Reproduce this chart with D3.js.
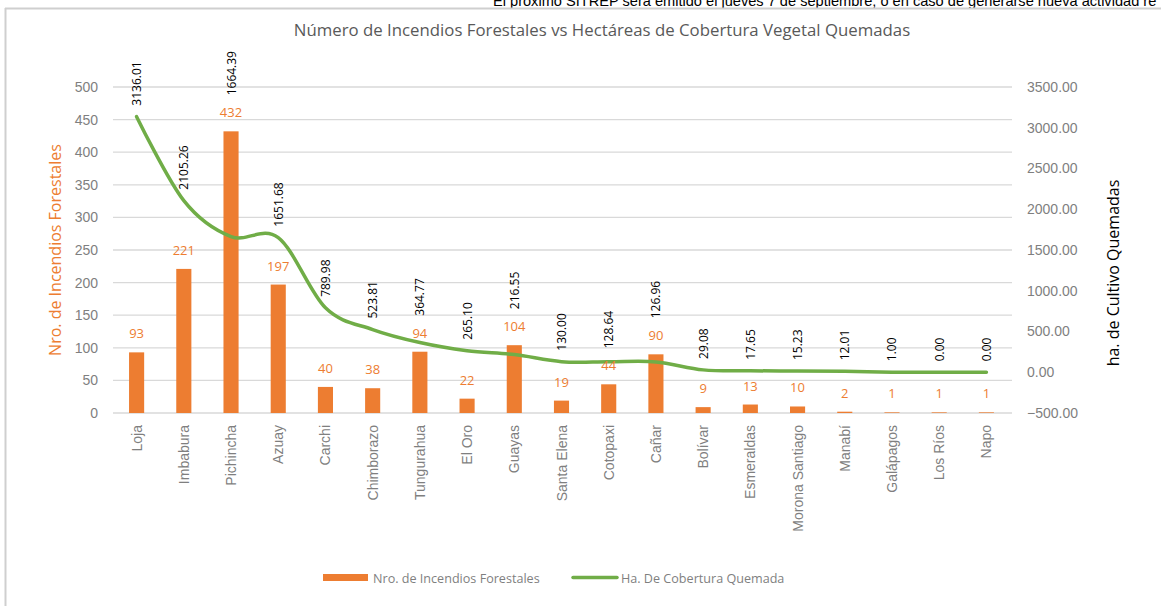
<!DOCTYPE html>
<html><head><meta charset="utf-8">
<script src="https://cdn.jsdelivr.net/npm/d3@7/dist/d3.min.js"></script>
<style>
body{margin:0;background:#fff;}
svg{display:block;font-family:"Open Sans","Noto Sans",sans-serif;}
</style></head>
<body>
<svg id="c" width="1161" height="606"></svg>
<script>
const categories = ["Loja","Imbabura","Pichincha","Azuay","Carchi","Chimborazo","Tungurahua","El Oro","Guayas","Santa Elena","Cotopaxi","Cañar","Bolívar","Esmeraldas","Morona Santiago","Manabí","Galápagos","Los Ríos","Napo"];
const incendios = [93,221,432,197,40,38,94,22,104,19,44,90,9,13,10,2,1,1,1];
const hectareas = [3136.01,2105.26,1664.39,1651.68,789.98,523.81,364.77,265.10,216.55,130.00,128.64,126.96,29.08,17.65,15.23,12.01,1.00,0.00,0.00];
const leftTicks = [0,50,100,150,200,250,300,350,400,450,500];
const rightTicks = [-500,0,500,1000,1500,2000,2500,3000,3500];
const title = "Número de Incendios Forestales vs Hectáreas de Cobertura Vegetal Quemadas";
const headerText = "El próximo SITREP será emitido el jueves 7 de septiembre, o en caso de generarse nueva actividad re";
const leftTitle = "Nro. de Incendios Forestales";
const rightTitle = "ha. de Cultivo Quemadas";
const legendBar = "Nro. de Incendios Forestales";
const legendLine = "Ha. De Cobertura Quemada";

const ORANGE = "#ED7D31", GREEN = "#70AD47";
const svg = d3.select("#c");

// header & frame
svg.append("text").attr("x",493).attr("y",6).attr("font-family","Liberation Sans, Arial, sans-serif")
  .attr("font-size",14.6).attr("fill","#000").text(headerText);
svg.append("line").attr("x1",5).attr("x2",1161).attr("y1",8.5).attr("y2",8.5).attr("stroke","#cfcfcf").attr("stroke-width",2);
svg.append("line").attr("x1",5.5).attr("x2",5.5).attr("y1",8).attr("y2",606).attr("stroke","#cfcfcf").attr("stroke-width",2);

const x = d3.scaleBand().domain(categories).range([113,1010]).paddingInner(0.68).paddingOuter(0.34);
const yL = d3.scaleLinear().domain([0,500]).range([413,87]);
const yR = d3.scaleLinear().domain([-500,3500]).range([413,87]);

// title
svg.append("text").attr("x",602).attr("y",36).attr("text-anchor","middle").attr("font-size",16.8)
  .attr("fill","#595959").text(title);

// gridlines
svg.append("g").selectAll("line").data(leftTicks).join("line")
  .attr("x1",113).attr("x2",1012).attr("y1",d=>yL(d)).attr("y2",d=>yL(d))
  .attr("stroke","#d9d9d9").attr("stroke-width",1.3);

// left axis
const gL = svg.append("g").attr("transform","translate(98,0)")
  .call(d3.axisLeft(yL).tickValues(leftTicks).tickSize(0).tickPadding(0));
gL.select(".domain").remove();
gL.selectAll("text").attr("font-size",14).attr("fill","#7f7f7f").attr("font-family",null);

// right axis
const gR = svg.append("g").attr("transform","translate(1027,0)")
  .call(d3.axisRight(yR).tickValues(rightTicks).tickSize(0).tickPadding(0).tickFormat(d3.format(".2f")));
gR.select(".domain").remove();
gR.selectAll("text").attr("font-size",14).attr("fill","#7f7f7f").attr("font-family",null);

// x axis labels
const gX = svg.append("g").attr("transform","translate(0,413)")
  .call(d3.axisBottom(x).tickSize(0).tickPadding(0));
gX.select(".domain").remove();
gX.selectAll("text").attr("font-size",14).attr("fill","#7f7f7f").attr("font-family",null)
  .attr("text-anchor","end").attr("dy",null).attr("y",0)
  .attr("transform","translate(5,12) rotate(-90)");

// bars
svg.append("g").selectAll("rect").data(incendios).join("rect")
  .attr("x",(d,i)=>x(categories[i])).attr("width",x.bandwidth())
  .attr("y",d=>yL(d)).attr("height",d=>yL(0)-yL(d)).attr("fill",ORANGE);

// line
const line = d3.line().x((d,i)=>x(categories[i])+x.bandwidth()/2).y(d=>yR(d)).curve(d3.curveCardinal.tension(0));
svg.append("path").datum(hectareas).attr("d",line).attr("fill","none").attr("stroke",GREEN)
  .attr("stroke-width",3.5).attr("stroke-linecap","round");

// bar labels
svg.append("g").selectAll("text").data(incendios).join("text")
  .attr("x",(d,i)=>x(categories[i])+x.bandwidth()/2).attr("y",d=>yL(d)-14)
  .attr("text-anchor","middle").attr("font-size",13).attr("fill",ORANGE).text(d=>d);

// line labels
svg.append("g").selectAll("text").data(hectareas).join("text")
  .attr("transform",(d,i)=>{
    const cx = x(categories[i])+x.bandwidth()/2;
    const top = Math.min(yR(d), yL(incendios[i])-25) - 11;
    return `translate(${cx+4.5},${top}) rotate(-90)`;
  })
  .attr("text-anchor","start").attr("font-size",12).attr("fill","#000").text(d=>d3.format(".2f")(d));

// axis titles
svg.append("text").attr("transform","translate(61,250) rotate(-90)").attr("text-anchor","middle")
  .attr("font-size",16).attr("fill",ORANGE).text(leftTitle);
svg.append("text").attr("transform","translate(1119,273) rotate(-90)").attr("text-anchor","middle")
  .attr("font-size",16).attr("fill","#000").text(rightTitle);

// legend
svg.append("rect").attr("x",323).attr("y",574).attr("width",45).attr("height",7).attr("fill",ORANGE);
svg.append("text").attr("x",373).attr("y",582.5).attr("font-size",12.6).attr("fill","#7f7f7f").text(legendBar);
svg.append("line").attr("x1",573).attr("x2",617).attr("y1",577.5).attr("y2",577.5).attr("stroke",GREEN)
  .attr("stroke-width",3.5).attr("stroke-linecap","round");
svg.append("text").attr("x",621).attr("y",582.5).attr("font-size",12.6).attr("fill","#7f7f7f").text(legendLine);
</script>
</body></html>
